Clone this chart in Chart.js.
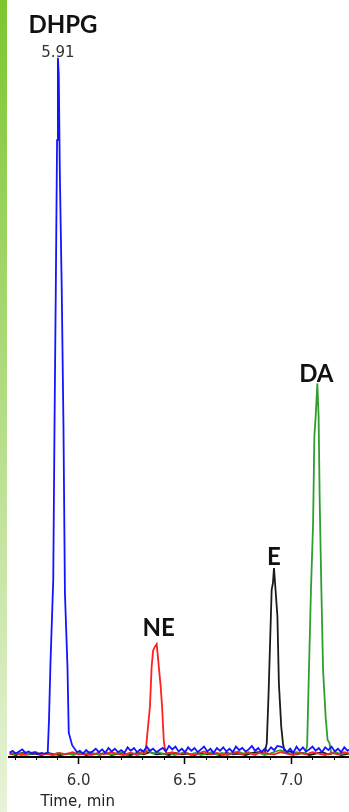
<!DOCTYPE html>
<html><head><meta charset="utf-8">
<script src="https://cdn.jsdelivr.net/npm/chart.js@4"></script>
<style>
html,body{margin:0;padding:0;background:#fff;width:349px;height:812px;overflow:hidden}
#bar{position:absolute;left:0;top:0;width:7px;height:812px;background:linear-gradient(#7cc62f,#e8f3d9)}
#wrap{position:absolute;left:7px;top:0;width:342px;height:812px}
</style></head><body>
<div id="bar"></div>
<div id="wrap"><canvas id="c"></canvas></div>
<script>
// time window (min) and intensity window (% of DHPG apex)
const xMin=5.674, xMax=7.272;
const yMin=-0.29, yMax=108.3;

// traces: [time, intensity]
const blueTrace=[[5.674,0.3],[5.689,0.6],[5.704,0.2],[5.719,0.5],[5.734,0.8],[5.749,0.3],[5.764,0.5],[5.779,0.2],[5.794,0.4],[5.809,0.1],[5.824,0.3],[5.839,0.2],
 [5.854,0.3],[5.860,5.0],[5.867,13.2],[5.873,18.7],[5.880,25.1],[5.886,47.3],[5.892,66.7],[5.898,88.2],[5.902,100],[5.906,97.6],[5.911,83.5],[5.920,66.7],[5.928,47.6],[5.935,23.2],[5.947,12.6],[5.953,3.2],[5.969,1.4],[5.992,0.4],
 [6.005,0.6],[6.020,0.2],[6.035,0.7],[6.050,0.3],[6.065,0.5],[6.080,0.9],[6.095,0.4],[6.110,0.8],[6.125,0.3],[6.140,1.0],[6.155,0.5],[6.170,0.9],[6.185,0.4],[6.200,0.7],[6.215,0.3],[6.230,1.1],[6.245,0.6],[6.260,1.0],[6.275,0.4],[6.290,0.8],[6.305,0.5],[6.320,1.2],[6.335,0.6],[6.350,0.9],[6.365,0.4],[6.380,0.7],[6.395,1.0],[6.410,0.5],[6.425,1.3],[6.440,0.8],[6.455,1.2],[6.470,0.5],[6.485,0.9],[6.500,0.4],[6.515,1.1],[6.530,0.6],[6.545,1.0],[6.560,0.4],[6.575,0.8],[6.590,1.2],[6.605,0.5],[6.620,0.9],[6.635,0.3],[6.650,1.0],[6.665,0.6],[6.680,1.1],[6.695,0.5],[6.710,0.9],[6.725,0.4],[6.740,1.2],[6.755,0.7],[6.770,1.0],[6.785,0.5],[6.800,0.8],[6.815,1.3],[6.830,0.6],[6.845,1.0],[6.860,0.4],[6.875,0.9],[6.890,0.5],[6.905,1.1],[6.920,0.7],[6.935,1.3],[6.950,1.2],[6.965,1.0],[6.980,0.4],[6.995,0.9],[7.010,0.3],[7.025,1.2],[7.040,0.6],[7.055,1.1],[7.070,0.5],[7.085,0.8],[7.100,1.2],[7.115,0.6],[7.130,1.0],[7.145,0.4],[7.160,1.1],[7.175,0.7],[7.190,1.2],[7.205,0.5],[7.220,0.9],[7.235,0.4],[7.250,1.1],[7.265,0.6],[7.272,0.8]];
const redTrace=[[5.674,0.1],[5.70,0.3],[5.73,0.0],[5.76,0.2],[5.79,0.4],[5.82,0.1],[5.85,0.2],[5.88,0.0],[5.91,0.3],[5.94,0.1],[5.97,0.4],[6.00,0.1],[6.03,0.2],[6.06,0.0],[6.09,0.3],[6.12,0.1],[6.15,0.4],[6.18,0.2],[6.21,0.0],[6.24,0.3],[6.27,0.1],[6.30,0.5],
 [6.314,0.2],[6.335,6.9],[6.343,12.6],[6.350,15.0],[6.358,15.5],[6.367,15.9],[6.374,13.6],[6.386,9.7],[6.393,6.5],[6.400,2.2],[6.405,1.0],[6.413,0.2],
 [6.44,0.4],[6.47,0.1],[6.50,0.3],[6.53,0.0],[6.56,0.2],[6.59,0.5],[6.62,0.1],[6.65,0.3],[6.68,0.0],[6.71,0.2],[6.74,0.4],[6.77,0.1],[6.80,0.3],[6.83,0.0],[6.86,0.5],[6.89,0.2],[6.92,0.1],[6.95,0.4],[6.98,0.2],[7.01,0.0],[7.04,0.3],[7.07,0.1],[7.10,0.4],[7.13,0.2],[7.16,0.0],[7.19,0.3],[7.22,0.1],[7.25,0.4],[7.272,0.2]];
const blackTrace=[[5.674,0.2],[5.705,0.0],[5.735,0.3],[5.765,0.1],[5.795,0.2],[5.825,0.0],[5.855,0.3],[5.885,0.1],[5.915,0.0],[5.945,0.2],[5.975,0.1],[6.005,0.3],[6.035,0.0],[6.065,0.2],[6.095,0.1],[6.125,0.3],[6.155,0.0],[6.185,0.2],[6.215,0.1],[6.245,0.0],[6.275,0.3],[6.305,0.1],[6.335,0.4],[6.365,0.1],[6.395,0.2],[6.425,0.0],[6.455,0.3],[6.485,0.1],[6.515,0.2],[6.545,0.0],[6.575,0.3],[6.605,0.1],[6.635,0.2],[6.665,0.0],[6.695,0.3],[6.725,0.1],[6.755,0.2],[6.785,0.0],[6.815,0.3],[6.845,0.4],
 [6.875,0.3],[6.885,1.7],[6.893,8.4],[6.900,15.5],[6.908,23.7],[6.914,24.7],[6.919,26.8],[6.925,24.2],[6.935,19.9],[6.942,10.3],[6.953,4.1],[6.961,1.7],[6.969,0.3],
 [6.995,0.5],[7.025,0.1],[7.055,0.3],[7.085,0.0],[7.115,0.2],[7.145,0.4],[7.175,0.1],[7.205,0.3],[7.235,0.0],[7.272,0.2]];
const greenTrace=[[5.674,0.4],[5.700,0.1],[5.725,0.3],[5.750,0.0],[5.775,0.2],[5.800,0.4],[5.825,0.1],[5.850,0.2],[5.875,0.0],[5.900,0.3],[5.925,0.1],[5.950,0.2],[5.975,0.0],[6.000,0.3],[6.025,0.1],[6.050,0.4],[6.075,0.2],[6.100,0.0],[6.125,0.3],[6.150,0.1],[6.175,0.2],[6.200,0.4],[6.225,0.1],[6.250,0.3],[6.275,0.0],[6.300,0.2],[6.325,0.6],[6.350,0.2],[6.375,0.4],[6.400,0.1],[6.425,0.3],[6.450,0.0],[6.475,0.2],[6.500,0.4],[6.525,0.1],[6.550,0.3],[6.575,0.0],[6.600,0.2],[6.625,0.4],[6.650,0.1],[6.675,0.3],[6.700,0.0],[6.725,0.2],[6.750,0.5],[6.775,0.2],[6.800,0.4],[6.825,0.1],[6.850,0.3],[6.875,0.0],[6.900,0.2],[6.925,0.5],[6.950,0.7],[6.975,0.3],[7.000,0.1],[7.025,0.4],[7.050,0.2],
 [7.067,0.3],[7.075,1.4],[7.082,10.3],[7.093,23.7],[7.103,33.3],[7.109,45.7],[7.115,48.5],[7.123,53.3],[7.129,48.5],[7.134,36.6],[7.142,23.7],[7.150,12.2],[7.162,5.5],[7.171,2.2],[7.180,1.7],[7.188,0.3],
 [7.210,0.4],[7.235,0.1],[7.255,0.3],[7.272,0.2]];

// peak annotations
const peakNames=['DHPG','NE','E','DA'];
const peakTimes=[5.902,6.367,6.919,7.123];
const peakHeights=[100,15.9,26.8,53.3];
const apexLabel='5.91';

const isMajor=v=>Math.abs(v*2-Math.round(v*2))<1e-6;
const pts=a=>a.map(p=>({x:p[0],y:p[1]}));
const line=(d,col)=>({data:pts(d),borderColor:col,borderWidth:1.8,pointRadius:0,tension:0,fill:false});

const overlay={id:'overlay',afterDraw(ch){
  const {ctx,chartArea,scales:{x,y}}=ch;
  ctx.save();
  // minor ticks, shorter than the major ones
  ctx.strokeStyle='#000';ctx.lineWidth=1;
  x.ticks.forEach((t,i)=>{
    if(isMajor(t.value))return;
    const px=Math.round(x.getPixelForTick(i))+0.5;
    ctx.beginPath();ctx.moveTo(px,chartArea.bottom);ctx.lineTo(px,chartArea.bottom+3);ctx.stroke();
  });
  // compound names above peaks
  const dx=[5,2,0,-1],gap=[25,8,3,1];
  ctx.font='bold 24px Lato';ctx.fillStyle='#111';ctx.textAlign='center';ctx.textBaseline='alphabetic';
  peakNames.forEach((n,i)=>ctx.fillText(n,x.getPixelForValue(peakTimes[i])+dx[i],y.getPixelForValue(peakHeights[i])-gap[i]));
  ctx.font='15px "DejaVu Sans"';ctx.fillStyle='#333';ctx.textBaseline='middle';
  ctx.fillText(apexLabel,x.getPixelForValue(peakTimes[0]),y.getPixelForValue(peakHeights[0])-5);
  ctx.textAlign='left';ctx.fillStyle='#222';
  ctx.fillText('Time, min',chartArea.left+31,802);
  ctx.restore();
}};

new Chart(document.getElementById('c'),{
  type:'line',
  data:{datasets:[line(blueTrace,'#1414ff'),line(redTrace,'#ff2020'),line(greenTrace,'#2f9e2f'),line(blackTrace,'#1a1a1a')]},
  options:{
    responsive:true,maintainAspectRatio:false,animation:false,parsing:true,
    layout:{padding:0},
    plugins:{legend:{display:false},tooltip:{enabled:false}},
    scales:{
      x:{type:'linear',min:xMin,max:xMax,
        afterFit(s){s.height=55;},
        border:{display:true,color:'#000',width:2},
        grid:{drawOnChartArea:false,drawTicks:true,tickLength:7,tickWidth:1.5,tickColor:c=>isMajor(c.tick.value)?'#000':'rgba(0,0,0,0)'},
        ticks:{stepSize:0.1,includeBounds:false,autoSkip:false,maxRotation:0,padding:8,color:'#333',font:{family:'DejaVu Sans',size:15},
          callback:v=>isMajor(v)?v.toFixed(1):''}},
      y:{display:false,min:yMin,max:yMax}
    }
  },
  plugins:[overlay]
});
</script>
</body></html>
